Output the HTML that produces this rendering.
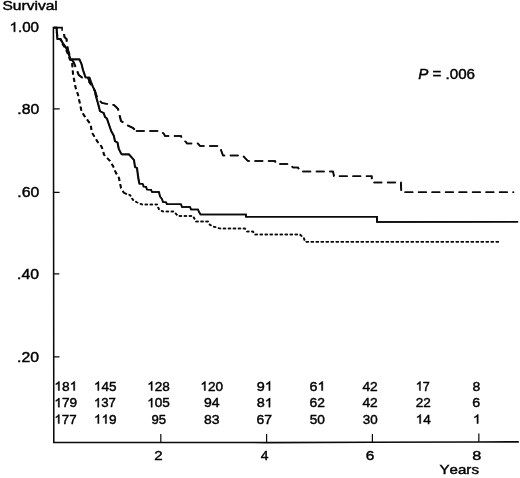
<!DOCTYPE html>
<html><head><meta charset="utf-8"><title>Survival</title>
<style>
html,body{margin:0;padding:0;background:#fff;}
body{width:520px;height:478px;overflow:hidden;}
svg{display:block;filter:grayscale(100%);}
text{font-family:"Liberation Sans",sans-serif;fill:#000;stroke:#000;stroke-width:0.42px;font-kerning:none;}.g1{fill:#000;stroke:#000;stroke-width:0.42px;}
</style></head><body>
<svg width="520" height="478" viewBox="0 0 520 478">
<rect x="0" y="0" width="520" height="478" fill="#ffffff"/>
<g fill="none" stroke="#0a0a0a" stroke-linejoin="miter">
<path d="M53.4 26.8 L53.8 442.55 L266 442.6 L372 442.3 L478 441.95 L518.8 441.85" stroke-width="1.55"/>
<path d="M53.6 27.6 H62.1 V30.8" stroke-width="1.6"/>
<path d="M53.5 108.9 H59.7 M53.5 192.3 H59.6 M53.5 273.9 H59.3 M53.5 356.8 H59.5" stroke-width="1.2"/>
<path d="M160.8 434 V442.6 M266.6 434 V442.6 M372.4 434 V442.3 M478.85 433.6 V442" stroke-width="1.2"/>

<g id="cv" transform="translate(-0.22 0)"><polyline points="54,27.6 56.6,27.6 56.8,31 57.4,38.8 60.5,38.8 62.7,43 65.9,47.4 68,52 70.6,59.4 79.4,59.4 81.5,64 83,70 85.6,77.5 89.4,77.5 91,82 93,87 95,91 95.6,95 98.1,103.75 100,111.25 103.75,113 105,117 106.9,118.4 111.25,131.25 113.75,135.6 115,141.25 117.5,142.5 118.75,148.75 121.25,153.75 122,154.4 129,154.4 134,160 135,167 137,168 138,176 139,182 139.5,183.6 143,183.8" stroke-width="1.65"/><polyline points="143,183.8 143.5,186.6 146,186.8 147,189.6 151,189.8 152,192 159,192 160,196.5 162,199 163,202 166,202.3 167,204.2 181,204.2 182,207 190,207 191,209.4 198,209.4 199,212 200.5,214.5 246,214.5 246,216.8 377,216.8 377,221.9 518,221.8" stroke-width="1.5"/><polyline points="64.1,34 64.5,37.2 66.6,39.1 66.8,43 68,50 70,56 72,60 73.75,62.5 76.25,68.75 78.75,75 81.9,77.5 88.75,78.5 89.4,82.5 92,86 95,91.25 96.25,95 98,99 101,102 102,103 114,105 118,109 119.5,115 121,121 127,125 133,128 136,131" stroke-width="1.65" stroke-dasharray="8.6 4.9"/><polyline points="136,131 161,131 164,134 165,136 181,136 182,139 186,142 187,143.6 198,143.6 200,146 219,146 221,150 223,155.6 243,155.6 245,158 248,161 275,161 276,164 290,164 293,167.6 298,167.6 300,171.4 333,171.4 334,176.2 371.7,176.2 372,182.4 400.9,182.4 401.3,192.3 514,192.3" stroke-width="1.5" stroke-dasharray="8.6 4.9"/><polyline points="56.6,27.6 56.8,31 57.4,38.8 60.3,39.2 62.2,43.6 65.3,48 67.4,52.6 70,59.6 72,61 73,74 75.6,87.5 78.1,95 81.25,110 83.75,115 90.6,124.4 91.9,132.5 95,137.5 98,142.5 101.25,146.25 103,150 103.9,154.6 110,161 113,166 116,173 119,178 120,183 121,188 124,193" stroke-width="1.65" stroke-dasharray="4.2 3.2" stroke-dashoffset="3"/><polyline points="124,193 130,195 133,200 137,202.4 142,204.4 157,204.4 159,209.4 163,211.6 174,211.6 178,216 193,216 196,221.6 208,221.6 210,225 213,226.4 220,228.6 245,228.6 247,231.6 253,231.6 255,234.6 300,234.6 304,238.4 305,241.7 500.5,241.7" stroke-width="1.5" stroke-dasharray="3 2"/></g>
<g transform="translate(0.22 0)"><polyline points="54,27.6 56.6,27.6 56.8,31 57.4,38.8 60.5,38.8 62.7,43 65.9,47.4 68,52 70.6,59.4 79.4,59.4 81.5,64 83,70 85.6,77.5 89.4,77.5 91,82 93,87 95,91 95.6,95 98.1,103.75 100,111.25 103.75,113 105,117 106.9,118.4 111.25,131.25 113.75,135.6 115,141.25 117.5,142.5 118.75,148.75 121.25,153.75 122,154.4 129,154.4 134,160 135,167 137,168 138,176 139,182 139.5,183.6 143,183.8" stroke-width="1.65"/><polyline points="143,183.8 143.5,186.6 146,186.8 147,189.6 151,189.8 152,192 159,192 160,196.5 162,199 163,202 166,202.3 167,204.2 181,204.2 182,207 190,207 191,209.4 198,209.4 199,212 200.5,214.5 246,214.5 246,216.8 377,216.8 377,221.9 518,221.8" stroke-width="1.5"/><polyline points="64.1,34 64.5,37.2 66.6,39.1 66.8,43 68,50 70,56 72,60 73.75,62.5 76.25,68.75 78.75,75 81.9,77.5 88.75,78.5 89.4,82.5 92,86 95,91.25 96.25,95 98,99 101,102 102,103 114,105 118,109 119.5,115 121,121 127,125 133,128 136,131" stroke-width="1.65" stroke-dasharray="8.6 4.9"/><polyline points="136,131 161,131 164,134 165,136 181,136 182,139 186,142 187,143.6 198,143.6 200,146 219,146 221,150 223,155.6 243,155.6 245,158 248,161 275,161 276,164 290,164 293,167.6 298,167.6 300,171.4 333,171.4 334,176.2 371.7,176.2 372,182.4 400.9,182.4 401.3,192.3 514,192.3" stroke-width="1.5" stroke-dasharray="8.6 4.9"/><polyline points="56.6,27.6 56.8,31 57.4,38.8 60.3,39.2 62.2,43.6 65.3,48 67.4,52.6 70,59.6 72,61 73,74 75.6,87.5 78.1,95 81.25,110 83.75,115 90.6,124.4 91.9,132.5 95,137.5 98,142.5 101.25,146.25 103,150 103.9,154.6 110,161 113,166 116,173 119,178 120,183 121,188 124,193" stroke-width="1.65" stroke-dasharray="4.2 3.2" stroke-dashoffset="3"/><polyline points="124,193 130,195 133,200 137,202.4 142,204.4 157,204.4 159,209.4 163,211.6 174,211.6 178,216 193,216 196,221.6 208,221.6 210,225 213,226.4 220,228.6 245,228.6 247,231.6 253,231.6 255,234.6 300,234.6 304,238.4 305,241.7 500.5,241.7" stroke-width="1.5" stroke-dasharray="3 2"/></g>
</g>
<g id="txt">
<g transform="translate(2.45 9.60) scale(1.1890 1)"><text font-size="13.1">Survival</text></g>
<g transform="translate(9.53 31.80) scale(1.0970 1)"><text font-size="13.8"><tspan visibility="hidden">1</tspan>.00</text><path class="g1" d="M5.14 0.00H3.93V-7.54Q3.49 -7.13 2.78 -6.72T1.50 -6.11V-7.25Q2.51 -7.72 3.27 -8.38T4.34 -9.66H5.14Z"/></g>
<g transform="translate(17.25 113.90) scale(1.1469 1)"><text font-size="13.8">.80</text></g>
<g transform="translate(17.25 197.00) scale(1.1469 1)"><text font-size="13.8">.60</text></g>
<g transform="translate(17.05 278.90) scale(1.1469 1)"><text font-size="13.8">.40</text></g>
<g transform="translate(17.05 361.60) scale(1.1469 1)"><text font-size="13.8">.20</text></g>
<g transform="translate(54.32 390.50) scale(1.0603 1)"><text font-size="13.0"><tspan visibility="hidden">1</tspan>8<tspan visibility="hidden">1</tspan></text><path class="g1" d="M4.84 0.00H3.70V-7.10Q3.29 -6.72 2.62 -6.33T1.42 -5.76V-6.83Q2.37 -7.27 3.08 -7.89T4.09 -9.10H4.84Z"/><path class="g1" d="M19.30 0.00H18.16V-7.10Q17.75 -6.72 17.08 -6.33T15.88 -5.76V-6.83Q16.83 -7.27 17.54 -7.89T18.55 -9.10H19.30Z"/></g>
<g transform="translate(54.34 407.20) scale(1.0500 1)"><text font-size="13.0"><tspan visibility="hidden">1</tspan>79</text><path class="g1" d="M4.84 0.00H3.70V-7.10Q3.29 -6.72 2.62 -6.33T1.42 -5.76V-6.83Q2.37 -7.27 3.08 -7.89T4.09 -9.10H4.84Z"/></g>
<g transform="translate(54.37 423.60) scale(1.0275 1)"><text font-size="13.0"><tspan visibility="hidden">1</tspan>77</text><path class="g1" d="M4.84 0.00H3.70V-7.10Q3.29 -6.72 2.62 -6.33T1.42 -5.76V-6.83Q2.37 -7.27 3.08 -7.89T4.09 -9.10H4.84Z"/></g>
<g transform="translate(93.90 390.50) scale(1.0385 1)"><text font-size="13.0"><tspan visibility="hidden">1</tspan>45</text><path class="g1" d="M4.84 0.00H3.70V-7.10Q3.29 -6.72 2.62 -6.33T1.42 -5.76V-6.83Q2.37 -7.27 3.08 -7.89T4.09 -9.10H4.84Z"/></g>
<g transform="translate(93.93 407.20) scale(1.0150 1)"><text font-size="13.0"><tspan visibility="hidden">1</tspan>37</text><path class="g1" d="M4.84 0.00H3.70V-7.10Q3.29 -6.72 2.62 -6.33T1.42 -5.76V-6.83Q2.37 -7.27 3.08 -7.89T4.09 -9.10H4.84Z"/></g>
<g transform="translate(93.89 423.60) scale(1.0450 1)"><text font-size="13.0"><tspan visibility="hidden">1</tspan><tspan visibility="hidden">1</tspan>9</text><path class="g1" d="M4.84 0.00H3.70V-7.10Q3.29 -6.72 2.62 -6.33T1.42 -5.76V-6.83Q2.37 -7.27 3.08 -7.89T4.09 -9.10H4.84Z"/><path class="g1" d="M12.07 0.00H10.93V-7.10Q10.52 -6.72 9.85 -6.33T8.65 -5.76V-6.83Q9.60 -7.27 10.31 -7.89T11.32 -9.10H12.07Z"/></g>
<g transform="translate(147.20 390.50) scale(1.0435 1)"><text font-size="13.0"><tspan visibility="hidden">1</tspan>28</text><path class="g1" d="M4.84 0.00H3.70V-7.10Q3.29 -6.72 2.62 -6.33T1.42 -5.76V-6.83Q2.37 -7.27 3.08 -7.89T4.09 -9.10H4.84Z"/></g>
<g transform="translate(147.20 407.20) scale(1.0435 1)"><text font-size="13.0"><tspan visibility="hidden">1</tspan>05</text><path class="g1" d="M4.84 0.00H3.70V-7.10Q3.29 -6.72 2.62 -6.33T1.42 -5.76V-6.83Q2.37 -7.27 3.08 -7.89T4.09 -9.10H4.84Z"/></g>
<g transform="translate(151.52 423.60) scale(1.0109 1)"><text font-size="13.0">95</text></g>
<g transform="translate(200.35 390.50) scale(1.0435 1)"><text font-size="13.0"><tspan visibility="hidden">1</tspan>20</text><path class="g1" d="M4.84 0.00H3.70V-7.10Q3.29 -6.72 2.62 -6.33T1.42 -5.76V-6.83Q2.37 -7.27 3.08 -7.89T4.09 -9.10H4.84Z"/></g>
<g transform="translate(203.99 407.20) scale(1.0811 1)"><text font-size="13.0">94</text></g>
<g transform="translate(204.00 423.60) scale(1.0764 1)"><text font-size="13.0">83</text></g>
<g transform="translate(256.68 390.50) scale(1.1116 1)"><text font-size="13.0">9<tspan visibility="hidden">1</tspan></text><path class="g1" d="M12.07 0.00H10.93V-7.10Q10.52 -6.72 9.85 -6.33T8.65 -5.76V-6.83Q9.60 -7.27 10.31 -7.89T11.32 -9.10H12.07Z"/></g>
<g transform="translate(256.68 407.20) scale(1.1116 1)"><text font-size="13.0">8<tspan visibility="hidden">1</tspan></text><path class="g1" d="M12.07 0.00H10.93V-7.10Q10.52 -6.72 9.85 -6.33T8.65 -5.76V-6.83Q9.60 -7.27 10.31 -7.89T11.32 -9.10H12.07Z"/></g>
<g transform="translate(256.56 423.60) scale(1.0741 1)"><text font-size="13.0">67</text></g>
<g transform="translate(309.45 390.50) scale(1.1064 1)"><text font-size="13.0">6<tspan visibility="hidden">1</tspan></text><path class="g1" d="M12.07 0.00H10.93V-7.10Q10.52 -6.72 9.85 -6.33T8.65 -5.76V-6.83Q9.60 -7.27 10.31 -7.89T11.32 -9.10H12.07Z"/></g>
<g transform="translate(309.47 407.20) scale(1.0667 1)"><text font-size="13.0">62</text></g>
<g transform="translate(309.74 423.60) scale(1.0523 1)"><text font-size="13.0">50</text></g>
<g transform="translate(362.47 390.50) scale(1.0595 1)"><text font-size="13.0">42</text></g>
<g transform="translate(362.47 407.20) scale(1.0595 1)"><text font-size="13.0">42</text></g>
<g transform="translate(362.74 423.60) scale(1.0306 1)"><text font-size="13.0">30</text></g>
<g transform="translate(415.79 390.50) scale(0.9647 1)"><text font-size="13.0"><tspan visibility="hidden">1</tspan>7</text><path class="g1" d="M4.84 0.00H3.70V-7.10Q3.29 -6.72 2.62 -6.33T1.42 -5.76V-6.83Q2.37 -7.27 3.08 -7.89T4.09 -9.10H4.84Z"/></g>
<g transform="translate(415.68 407.20) scale(1.0444 1)"><text font-size="13.0">22</text></g>
<g transform="translate(415.69 423.60) scale(1.0462 1)"><text font-size="13.0"><tspan visibility="hidden">1</tspan>4</text><path class="g1" d="M4.84 0.00H3.70V-7.10Q3.29 -6.72 2.62 -6.33T1.42 -5.76V-6.83Q2.37 -7.27 3.08 -7.89T4.09 -9.10H4.84Z"/></g>
<g transform="translate(472.50 390.50) scale(1.0769 1)"><text font-size="13.0">8</text></g>
<g transform="translate(472.35 407.20) scale(1.0980 1)"><text font-size="13.0">6</text></g>
<g transform="translate(472.93 423.60) scale(1.0933 1)"><text font-size="13.0"><tspan visibility="hidden">1</tspan></text><path class="g1" d="M4.84 0.00H3.70V-7.10Q3.29 -6.72 2.62 -6.33T1.42 -5.76V-6.83Q2.37 -7.27 3.08 -7.89T4.09 -9.10H4.84Z"/></g>
<g transform="translate(154.28 459.90) scale(1.1373 1)"><text font-size="13.3">2</text></g>
<g transform="translate(260.72 459.90) scale(1.0456 1)"><text font-size="13.3">4</text></g>
<g transform="translate(365.77 459.90) scale(1.1615 1)"><text font-size="13.3">6</text></g>
<g transform="translate(472.35 459.50) scale(1.1926 1)"><text font-size="13.6">8</text></g>
<g transform="translate(439.50 474.30) scale(1.1281 1)"><text font-size="13.4">Years</text></g>
<text transform="translate(418.13 79) scale(1.0993 1)" font-size="13.8"><tspan font-style="italic">P</tspan> = .006</text>
</g>
</g></svg></body></html>
